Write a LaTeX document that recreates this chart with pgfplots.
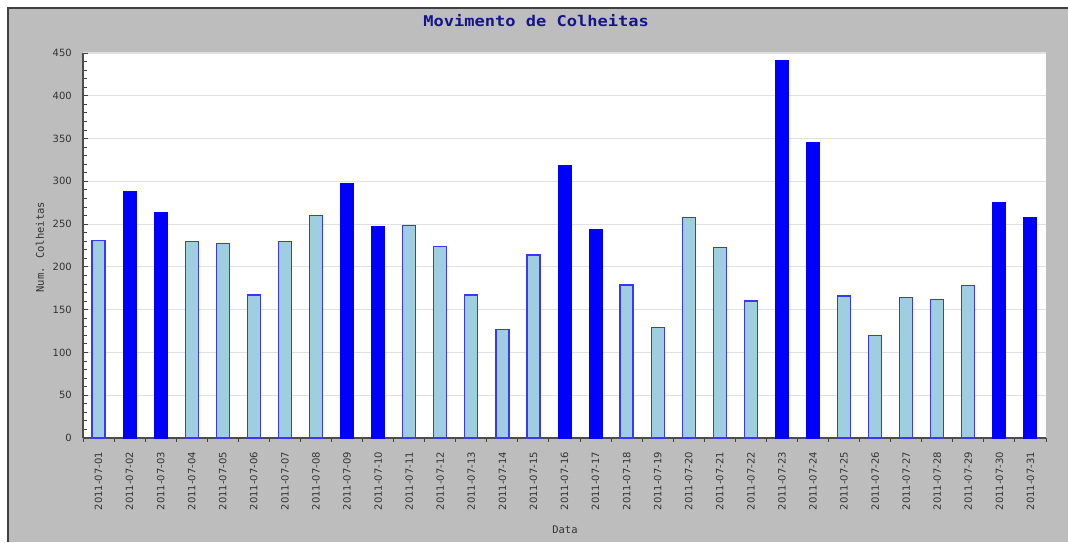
\documentclass[border=0pt]{standalone}
\usepackage{fontspec}
\setmainfont{DejaVu Sans}
\newfontfamily\monofont{DejaVu Sans Mono}
\newfontfamily\titlefont[FakeStretch=1.15]{DejaVu Sans Mono}
\usepackage{pgfplots}
\pgfplotsset{compat=1.18}
\definecolor{bggray}{RGB}{189,189,189}
\definecolor{lightbar}{RGB}{158,206,224}
\definecolor{barline}{RGB}{55,55,255}
\definecolor{gridc}{RGB}{225,225,225}
\definecolor{titleblue}{RGB}{20,20,140}
\begin{document}
\begin{tikzpicture}
\useasboundingbox (0,0) rectangle (1068pt,542pt);
\fill[white] (0,0) rectangle (1068pt,542pt);
\fill[bggray] (8pt,0) rectangle (1068pt,534pt);
\draw[black!75, line width=1.5pt] (8pt,0) -- (8pt,534pt) -- (1068pt,534pt);
\begin{axis}[
  at={(83pt,104pt)}, anchor=south west,
  scale only axis, width=963pt, height=385pt,
  xmin=-0.5, xmax=30.5, ymin=0, ymax=450,
  axis background/.style={fill=white},
  axis x line*=bottom, axis y line*=left,
  axis line style={black!70, line width=1.3pt, -},
  xtick={0,...,30},
  xticklabels={2011-07-01,2011-07-02,2011-07-03,2011-07-04,2011-07-05,2011-07-06,2011-07-07,2011-07-08,2011-07-09,2011-07-10,2011-07-11,2011-07-12,2011-07-13,2011-07-14,2011-07-15,2011-07-16,2011-07-17,2011-07-18,2011-07-19,2011-07-20,2011-07-21,2011-07-22,2011-07-23,2011-07-24,2011-07-25,2011-07-26,2011-07-27,2011-07-28,2011-07-29,2011-07-30,2011-07-31},
  minor xtick={-0.5,0.5,...,30.5},
  ytick={0,50,...,450},
  minor y tick num=4,
  tick align=inside,
  major x tick style={draw=none},
  minor x tick style={black!75, line width=1pt},
  major tick length=5pt, minor tick length=3.5pt,
  tick style={black!75, line width=1pt},
  ymajorgrids, major y grid style={gridc, line width=1.2pt},
  x tick label style={rotate=90, anchor=east, inner sep=0pt, font=\fontsize{10}{12}\selectfont, text=black!80},
  xticklabel shift=9pt,
  y tick label style={anchor=east, inner sep=0pt, font=\fontsize{10}{12}\selectfont, text=black!80},
  yticklabel shift=11pt,
  /pgf/number format/assume math mode=true,
  title={\titlefont\bfseries Movimento de Colheitas},
  title style={at={(axis description cs:0.4705,1.068)}, anchor=center, text=titleblue, font=\fontsize{14.8}{16}\selectfont},
  xlabel={Data},
  xlabel style={at={(axis description cs:0.5005,-0.239)}, anchor=center, font=\monofont\fontsize{10.5}{12}\selectfont, text=black!80},
  ylabel={Num. Colheitas},
  ylabel style={at={(axis description cs:-0.0447,0.496)}, anchor=center, rotate=0, font=\monofont\fontsize{10.5}{12}\selectfont, text=black!80},
  ybar, bar width=13pt, bar shift=0pt,
  clip=false,
]
\addplot[fill=lightbar, draw=barline, line width=1.3pt] coordinates {
(0,231) (3,230) (4,227) (5,167) (6,230) (7,260) (10,248) (11,224) (12,167) (13,127) (14,214) (17,179) (18,129) (19,258) (20,223) (21,160) (24,166) (25,120) (26,164) (27,162) (28,178)};
\addplot[fill=blue, draw=blue, line width=1pt] coordinates {
(1,288) (2,263) (8,298) (9,247) (15,318) (16,244) (22,441) (23,345) (29,275) (30,258)};
\end{axis}
\end{tikzpicture}
\end{document}
